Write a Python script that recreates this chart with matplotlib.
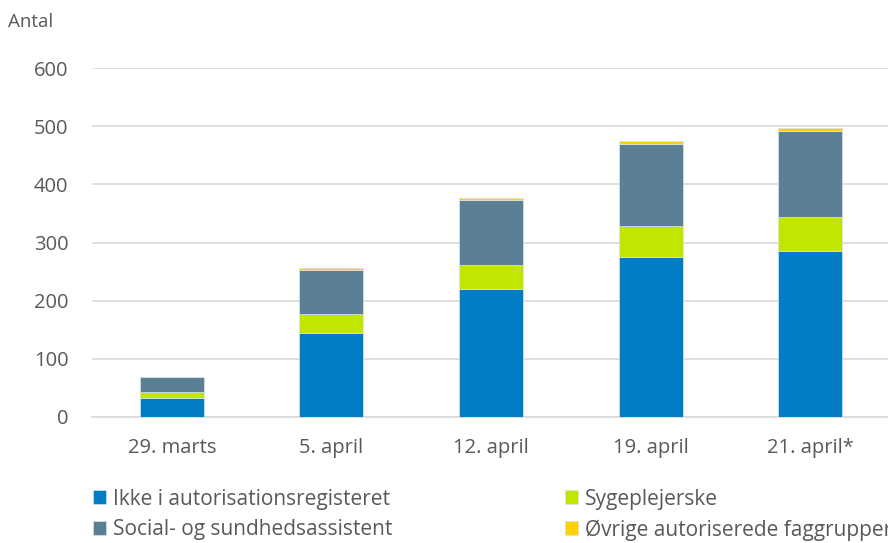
import matplotlib.pyplot as plt
import numpy as np

plt.rcParams['font.family'] = ['Open Sans', 'DejaVu Sans']

# Data
dates = ["29. marts", "5. april", "12. april", "19. april", "21. april*"]
ikke_autoriseret = [33, 144, 220, 275, 286]
sygeplejerske = [10, 33, 42, 53, 57]
social_sundhed = [26, 76, 111, 141, 149]
oevrige = [0, 4, 4, 5, 5]

series = [
    ("Ikke i autorisationsregisteret", ikke_autoriseret, "#007DC5"),
    ("Sygeplejerske", sygeplejerske, "#C3E600"),
    ("Social- og sundhedsassistent", social_sundhed, "#5B7F95"),
    ("Øvrige autoriserede faggrupper", oevrige, "#FFD100"),
]

fig = plt.figure(figsize=(8.88, 5.43), dpi=100)
ax = fig.add_axes([92 / 888, 1 - 417 / 543, 798 / 888, 349 / 543])

x = np.arange(len(dates))
bottom = np.zeros(len(dates))
bars = {}
for name, vals, color in series:
    bars[name] = ax.bar(x, vals, 0.4, bottom=bottom, color=color,
                        edgecolor="#D6E4EC", linewidth=0.5, zorder=3, label=name)
    bottom += np.array(vals)

ax.set_ylim(0, 600)
ax.set_xlim(-0.5, len(dates) - 0.5)
ax.set_yticks(range(0, 601, 100))
ax.set_xticks(x)
ax.set_xticklabels(dates)
ax.tick_params(axis="both", length=0, labelsize=14.5, colors="#595959")
ax.tick_params(axis="y", pad=17)
ax.tick_params(axis="x", pad=15)
ax.grid(axis="y", color="#D9D9D9", linewidth=1.2, zorder=0)
for s in ["top", "right", "left"]:
    ax.spines[s].set_visible(False)
ax.spines["bottom"].set_color("#D9D9D9")
ax.spines["bottom"].set_linewidth(1.2)

fig.text(8 / 888, 1 - 22 / 543, "Antal", fontsize=13.5, color="#595959", va="center")

order = ["Ikke i autorisationsregisteret", "Social- og sundhedsassistent",
         "Sygeplejerske", "Øvrige autoriserede faggrupper"]
fig.legend([bars[n] for n in order], order, ncol=2, loc="upper left",
           bbox_to_anchor=(74 / 888, 1 - 470 / 543), frameon=False,
           fontsize=15, handlelength=0.65, handleheight=0.65, handletextpad=0.3,
           columnspacing=8.3, labelspacing=0.45, labelcolor="#595959")

fig.savefig("out.png", dpi=100)
